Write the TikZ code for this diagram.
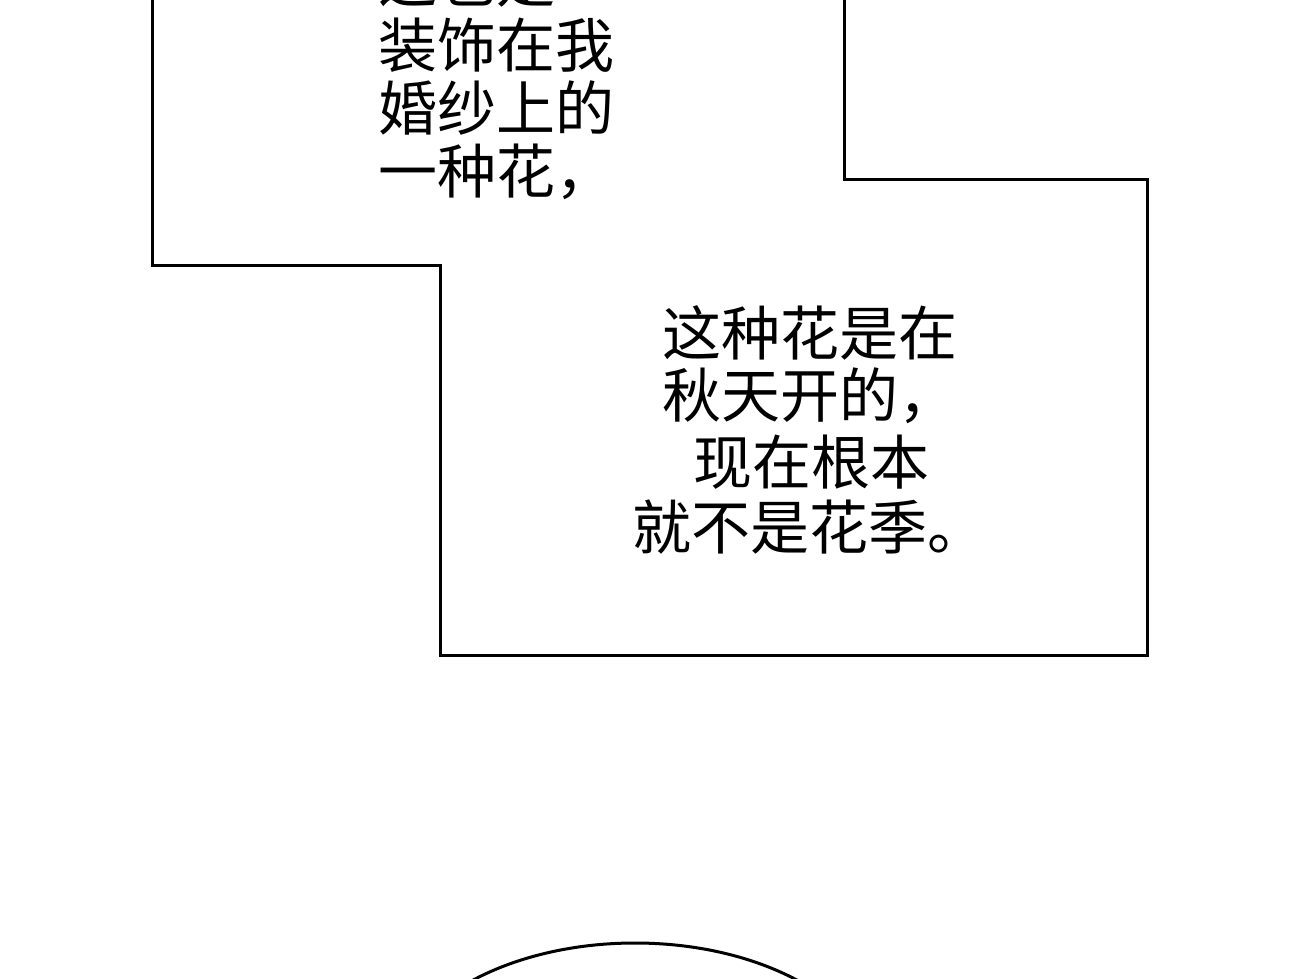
\documentclass[tikz,border=0pt]{standalone}
\usepackage{fontspec}
\newfontfamily\cjk{Noto Sans CJK SC}
\begin{document}
\begin{tikzpicture}[x=1pt,y=-1pt,
  txt/.style={font=\cjk\fontsize{59}{63}\selectfont,inner sep=0pt,anchor=west},
  ln/.style={line width=3pt,draw=black}]
\useasboundingbox (0,0) rectangle (1300,979);
\clip (0,0) rectangle (1300,979);
\fill[white] (0,0) rectangle (1300,979);
\draw[ln] (152,-10) -- (152,265) -- (440,265) -- (440,655) -- (1147,655) -- (1147,179) -- (844,179) -- (844,-10);
\node[txt] (l0) at (378,-20) {这也是};
\node[txt] (l1) at (378,45) {装饰在我};
\node[txt] (l2) at (378,108) {婚纱上的};
\node[txt] (l3) at (378,172) {一种花，};
\node[txt] (r1) at (662,333) {这种花是在};
\node[txt] (r2) at (662,396) {秋天开的，};
\node[txt] (r3) at (693,462) {现在根本};
\node[txt] (r4) at (632,527) {就不是花季。};
\draw[ln] (635,1093) ellipse [x radius=246, y radius=150];
\end{tikzpicture}
\end{document}
